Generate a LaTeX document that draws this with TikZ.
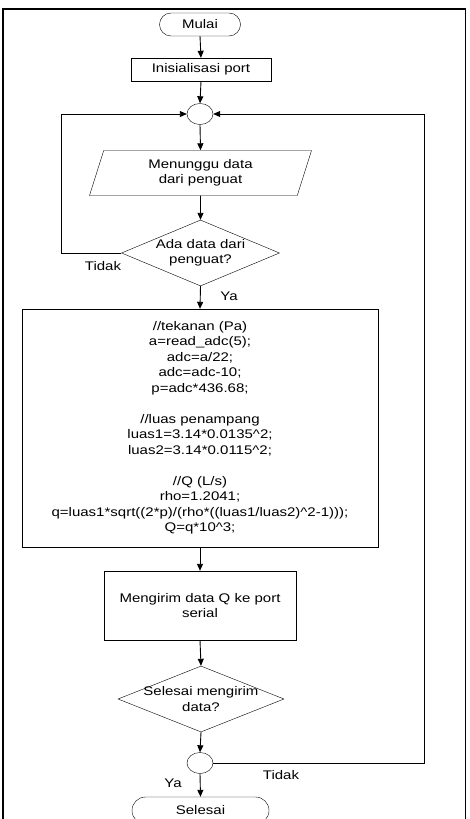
\documentclass[tikz,border=0pt]{standalone}
\usepackage{fontspec}
\setmainfont{Liberation Sans}[FakeStretch=1.2]
\usetikzlibrary{shapes.geometric, shapes.misc, positioning, arrows.meta}

\begin{document}
\begin{tikzpicture}[
    x=1pt, y=-1pt,
    >={Triangle[length=7pt,width=6pt]},
    every node/.style={font=\fontsize{12.5}{15.5}\selectfont, align=center},
    terminal/.style={draw, rounded rectangle, minimum height=23pt, inner sep=2pt},
    process/.style={draw, rectangle, inner sep=2pt},
    io/.style={draw, trapezium, trapezium left angle=64, trapezium right angle=116,
        trapezium stretches body, minimum width=222pt, minimum height=45pt, inner sep=1pt},
    decision/.style={draw, diamond, aspect=2.5, inner sep=-5pt},
    joint/.style={draw, ellipse, minimum width=26pt, minimum height=21pt, inner sep=0pt},
    flow/.style={->, line width=0.9pt}
]

% page size and clipping
\useasboundingbox (0,0) rectangle (469,819);
\clip (0,0) rectangle (469,819);

% outer frame
\draw[line width=1.6pt] (3,9) rectangle (465.5,840);

% -------------------------
% Nodes
% -------------------------
\node[terminal, minimum width=85pt] (Mulai) at (200,24.5) {Mulai};
\node[process, minimum width=140pt, minimum height=23pt] (Init) at (201,69.5) {Inisialisasi port};
\node[joint] (JoinTop) at (200,114) {};
\node[io] (Wait) at (200.5,173) {Menunggu data\\dari penguat};
\node[decision, minimum width=158pt, minimum height=66pt] (AdaData) at (200.5,253) {Ada data dari\\penguat?};

% calculation block
\node[process, minimum width=356pt, minimum height=238pt] (Calc) at (200,428) {
    //tekanan (Pa)\\
    a=read\_adc(5);\\
    adc=a/22;\\
    adc=adc-10;\\
    p=adc*436.68;\\[15.5pt]
    //luas penampang\\
    luas1=3.14*0.0135\textasciicircum2;\\
    luas2=3.14*0.0115\textasciicircum2;\\[15.5pt]
    //Q (L/s)\\
    rho=1.2041;\\
    q=luas1*sqrt((2*p)/(rho*((luas1/luas2)\textasciicircum2-1)));\\
    Q=q*10\textasciicircum3;
};

\node[process, minimum width=192pt, minimum height=69pt] (Send) at (200,605.5) {Mengirim data Q ke port\\serial};
\node[decision, minimum width=166pt, minimum height=66pt] (SendDone) at (201,699) {Selesai mengirim\\data?};
\node[joint] (JoinBot) at (200,763) {};
\node[terminal, minimum width=141pt, minimum height=27pt] (Selesai) at (200.5,810.5) {Selesai};

% labels
\node (TidakA) at (103,266) {Tidak};
\node (YaA) at (229,296) {Ya};
\node (TidakB) at (281,775) {Tidak};
\node (YaB) at (173,783) {Ya};

% -------------------------
% Connections
% -------------------------
\draw[flow] (Mulai.south) -- (Init.north);
\draw[flow] (Init.south) -- (JoinTop.north);
\draw[flow] (JoinTop.south) -- (Wait.north);
\draw[flow] (Wait.south) -- (AdaData.north);

% no data -> back to top
\draw[flow] (AdaData.west) -- ++(-60,0) |- (JoinTop.west);

\draw[flow] (AdaData.south) -- (Calc.north);
\draw[flow] (Calc.south) -- (Send.north);
\draw[flow] (Send.south) -- (SendDone.north);
\draw[flow] (SendDone.south) -- (JoinBot.north);
\draw[flow] (JoinBot.south) -- (Selesai.north);

% not done -> back to top
\draw[flow] (JoinBot.east) -- ++(211,0) |- (JoinTop.east);

\end{tikzpicture}
\end{document}
